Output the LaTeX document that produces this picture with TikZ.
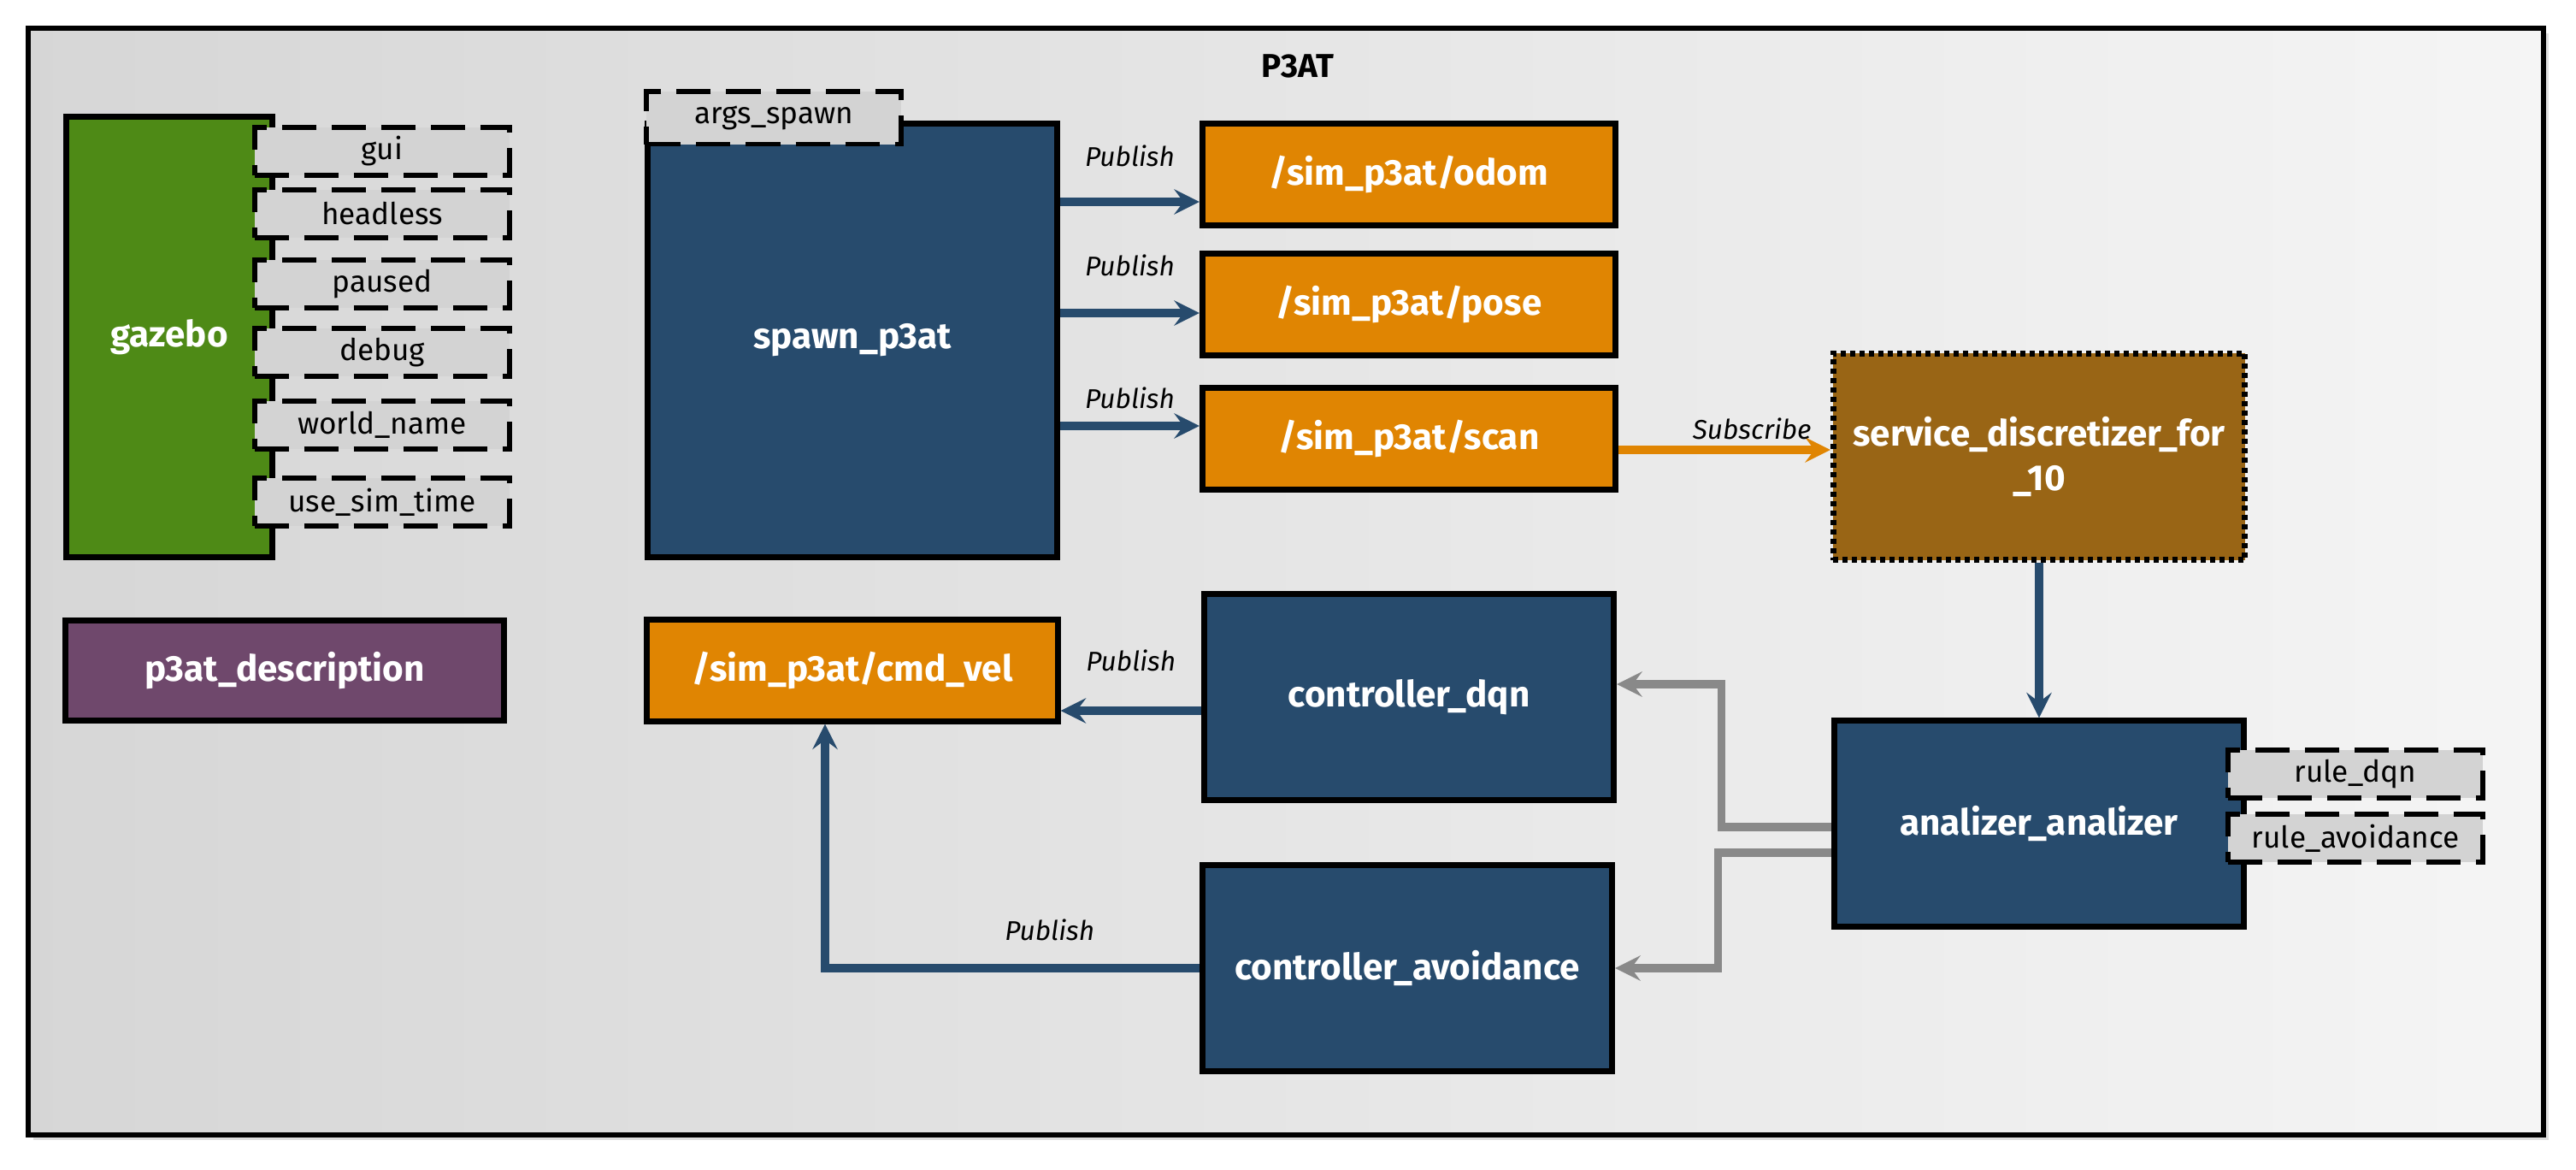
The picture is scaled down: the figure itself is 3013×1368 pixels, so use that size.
\documentclass[tikz,border=0pt]{standalone}
\usepackage{fontspec}
\setmainfont{Fira Sans}
\usepackage{tikz}
\tikzset{>=stealth}
\usetikzlibrary{arrows, calc, shadows}

\definecolor{nodeblue}{RGB}{39,75,109}
\definecolor{topicorange}{RGB}{224,133,2}
\definecolor{gazgreen}{RGB}{78,138,22}
\definecolor{descpurple}{RGB}{111,72,108}
\definecolor{servbrown}{RGB}{153,101,21}
\definecolor{argsgray}{RGB}{211,211,211}
\definecolor{linkgray}{RGB}{137,137,137}

\tikzset{
  box/.style={draw=black, line width=2pt, text=white, align=center, inner sep=0pt,
    font=\bfseries\fontsize{12}{15}\selectfont},
  rosnode/.style={box, fill=nodeblue, minimum width=4.79cm, minimum height=2.40cm},
  topic/.style={box, fill=topicorange, minimum width=4.83cm, minimum height=1.19cm},
  argbox/.style={draw=black, line width=1.7pt, dash pattern=on 0.4cm off 0.18cm,
    fill=argsgray, minimum width=2.98cm, minimum height=0.56cm, inner sep=0pt,
    font=\fontsize{10}{12}\selectfont},
  pubarrow/.style={->, draw=nodeblue, line width=2.6pt},
  subarrow/.style={->, draw=topicorange, line width=2.6pt},
  linkarrow/.style={->, draw=linkgray, line width=2.6pt},
  edgelabel/.style={inner sep=0pt, text=black, font=\itshape\fontsize{9}{11}\selectfont},
}

\begin{document}
\begin{tikzpicture}[x=0.01cm, y=-0.01cm]
    \useasboundingbox (0,0) rectangle (3013,1368);
    % launch frame
    \draw [line width=1.8pt, left color=black!16, right color=black!4,
      drop shadow={shadow xshift=0.06cm, shadow yshift=-0.06cm, opacity=0.25}]
      (33,33) rectangle (2975,1327);
    \node [inner sep=0pt, font=\bfseries\fontsize{11}{13}\selectfont] (title) at (1518,77) {P3AT};

    % simulator
    \node [box, fill=gazgreen, minimum width=2.41cm, minimum height=5.14cm] (gazebo) at (198,394) {gazebo};
    \node [argbox] (gui) at (447,177) {gui};
    \node [argbox] (headless) at (447,250) {headless};
    \node [argbox] (paused) at (447,332) {paused};
    \node [argbox] (debug) at (447,412) {debug};
    \node [argbox] (worldname) at (447,497) {world\_name};
    \node [argbox] (simtime) at (447,587) {use\_sim\_time};
    \node [box, fill=descpurple, minimum width=5.13cm, minimum height=1.16cm] (description) at (333,784) {p3at\_description};

    % robot and topics
    \node [box, fill=nodeblue, minimum width=4.79cm, minimum height=5.06cm] (spawn) at (997,398) {spawn\_p3at};
    \node [argbox, minimum width=2.97cm, minimum height=0.61cm] (argsspawn) at (905,138) {args\_spawn};
    \node [topic] (odom) at (1648,204) {/sim\_p3at/odom};
    \node [topic] (pose) at (1648,356) {/sim\_p3at/pose};
    \node [topic] (scan) at (1648,513) {/sim\_p3at/scan};
    \node [topic, minimum width=4.80cm, minimum height=1.18cm] (cmdvel) at (997,784) {/sim\_p3at/cmd\_vel};

    % services and controllers
    \node [box, fill=servbrown, minimum width=4.81cm, minimum height=2.41cm, dash pattern=on 0.06cm off 0.05cm] (discretizer) at (2385,534) {service\_discretizer\_for\\\_10};
    \node [rosnode] (analizer) at (2385,963) {analizer\_analizer};
    \node [argbox] (ruledqn) at (2755,905) {rule\_dqn};
    \node [argbox] (ruleavoid) at (2755,980) {rule\_avoidance};
    \node [rosnode] (dqn) at (1648,815) {controller\_dqn};
    \node [rosnode] (avoid) at (1646,1132) {controller\_avoidance};

    % publish / subscribe
    \coordinate (odomin) at ([yshift=-0.32cm]odom.west);
    \coordinate (posein) at ([yshift=-0.10cm]pose.west);
    \coordinate (scanin) at ([yshift=0.15cm]scan.west);
    \draw [pubarrow] (spawn.east |- odomin) -- (odomin) node [edgelabel, midway, above=0.37cm] {Publish};
    \draw [pubarrow] (spawn.east |- posein) -- (posein) node [edgelabel, midway, above=0.39cm] {Publish};
    \draw [pubarrow] (spawn.east |- scanin) -- (scanin) node [edgelabel, midway, above=0.16cm] {Publish};
    \coordinate (scanout) at ([yshift=-0.13cm]scan.east);
    \draw [subarrow] (scanout) -- (discretizer.west |- scanout) node [edgelabel, pos=0.63, above=0.08cm] {Subscribe};
    \draw [pubarrow] (discretizer.south) -- (analizer.north);
    \coordinate (dqnout) at ([yshift=-0.16cm]dqn.west);
    \draw [pubarrow] (dqnout) -- (cmdvel.east |- dqnout) node [edgelabel, midway, above=0.42cm] {Publish};
    \coordinate (avoidbend) at ([xshift=-0.32cm]cmdvel.south |- avoid.west);
    \draw [pubarrow] (avoid.west) -- (avoidbend) node [edgelabel, pos=0.4, above=0.28cm] {Publish} -- (avoidbend |- cmdvel.south);

    % rule links
    \coordinate (ruleout1) at ([yshift=-0.04cm]analizer.west);
    \coordinate (ruleout2) at ([yshift=-0.34cm]analizer.west);
    \coordinate (dqnin) at ([yshift=0.15cm]dqn.east);
    \draw [linkarrow] (ruleout1) -- ++(-128,0) |- (dqnin);
    \draw [linkarrow] (ruleout2) -- ++(-132,0) |- (avoid.east);
\end{tikzpicture}
\end{document}
